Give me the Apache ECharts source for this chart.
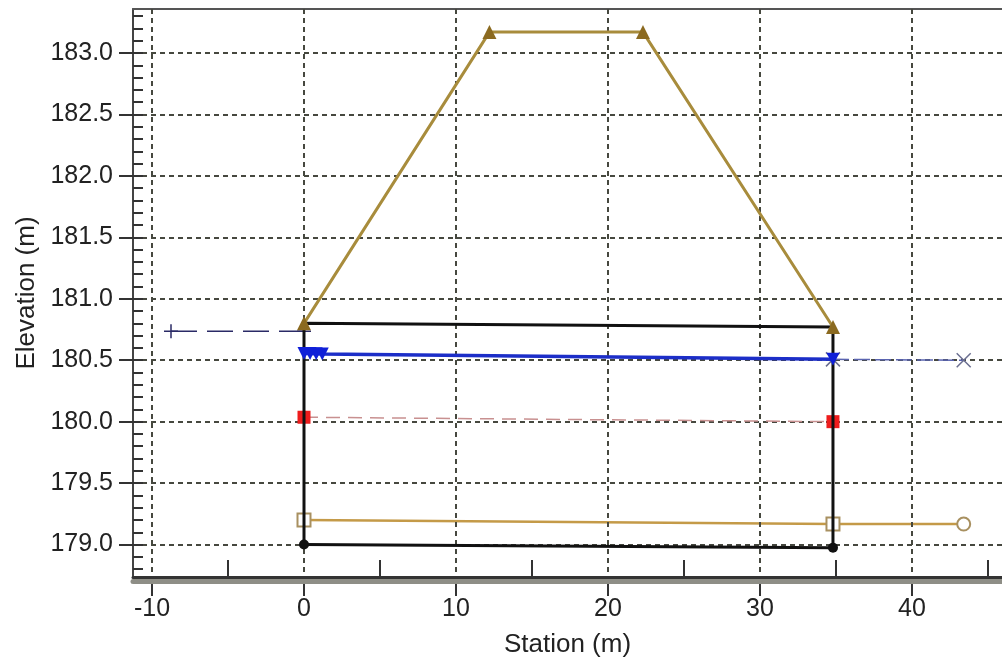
<!DOCTYPE html>
<html>
<head>
<meta charset="utf-8">
<script src="https://cdn.jsdelivr.net/npm/echarts@6/dist/echarts.min.js"></script>
<style>
  html, body { margin: 0; padding: 0; background: #ffffff; }
  #chart { width: 1002px; height: 663px; }
</style>
</head>
<body>
<div id="chart"></div>
<script>
// Culvert cross-section profile: station (m) vs elevation (m)

// Axis extents and tick positions
const xMin = -11.25;
const xMax = 45.92;
const yMin = 178.736;
const yMax = 183.358;
const xTicks = [-10, 0, 10, 20, 30, 40];
const xMinorTicks = [-5, 5, 15, 25, 35, 45];
const yTicks = [179.0, 179.5, 180.0, 180.5, 181.0, 181.5, 182.0, 182.5, 183.0];
const yMinorTicks = [178.8, 178.9, 179.0, 179.1, 179.2, 179.3, 179.4, 179.5, 179.6, 179.7,
  179.8, 179.9, 180.0, 180.1, 180.2, 180.3, 180.4, 180.5, 180.6, 180.7,
  180.8, 180.9, 181.0, 181.1, 181.2, 181.3, 181.4, 181.5, 181.6, 181.7,
  181.8, 181.9, 182.0, 182.1, 182.2, 182.3, 182.4, 182.5, 182.6, 182.7,
  182.8, 182.9, 183.0, 183.1, 183.2, 183.3];

// Embankment / roadway crest
const roadX = [0, 12.2, 22.3, 34.8];
const roadY = [180.80, 183.17, 183.17, 180.77];

// Culvert barrel outline (walls and soffit)
const barrelX = [0, 0, 34.8, 34.8];
const barrelY = [179.0, 180.80, 180.77, 178.975];

// Culvert invert
const invertX = [0, 34.8];
const invertY = [179.0, 178.975];

// Water surface through the barrel
const waterX = [0, 0.4, 0.8, 1.2, 34.8];
const waterY = [180.555, 180.555, 180.553, 180.55, 180.507];

// Tailwater
const tailX = [34.8, 43.4];
const tailY = [180.507, 180.50];

// Headwater
const headX = [-8.75, 0];
const headY = [180.735, 180.735];

// Critical depth
const critX = [0, 34.8];
const critY = [180.036, 180.0];

// Normal depth / channel bed
const normX = [0, 34.8, 43.4];
const normY = [179.2, 179.167, 179.167];

const pairs = (xs, ys) => xs.map((x, i) => [x, ys[i]]);

const FONT = '"Liberation Sans", Arial, sans-serif';
const gridDash = { color: '#46483f', width: 2, type: [5, 4] };
const tickStyle = { color: '#333', width: 2 };

const plusPath = 'path://M0,5 L10,5 M5,0 L5,10';
const crossPath = 'path://M0,0 L10,10 M10,0 L0,10';

// tick-only axes that share the main scale
const tickAxisX = (extra) => Object.assign({
  type: 'value', min: xMin, max: xMax, position: 'bottom',
  axisLine: { show: false, onZero: false },
  axisLabel: { show: false },
  splitLine: { show: false }
}, extra);
const tickAxisY = (extra) => Object.assign({
  type: 'value', min: yMin, max: yMax, position: 'left',
  axisLine: { show: false, onZero: false },
  axisLabel: { show: false },
  splitLine: { show: false }
}, extra);

const chart = echarts.init(document.getElementById('chart'), null, { renderer: 'canvas' });

chart.setOption({
  animation: false,
  backgroundColor: '#ffffff',
  grid: { left: 133, right: 0, top: 9, bottom: 85, containLabel: false },
  xAxis: [
    {
      type: 'value', min: xMin, max: xMax, position: 'bottom',
      name: 'Station (m)', nameLocation: 'middle', nameGap: 55,
      nameTextStyle: { fontFamily: FONT, fontSize: 26, color: '#222' },
      axisLine: { show: true, onZero: false, lineStyle: { color: '#333', width: 3 } },
      axisTick: { show: false, customValues: xTicks },
      axisLabel: { show: true, customValues: xTicks, margin: 20,
        fontFamily: FONT, fontSize: 25, color: '#222' },
      splitLine: { show: true, lineStyle: gridDash },
      z: 5
    },
    // major ticks hanging below the axis line
    tickAxisX({
      offset: 19,
      axisTick: { show: true, inside: true, length: 19, customValues: xTicks, lineStyle: tickStyle }
    }),
    // minor ticks rising into the plot
    tickAxisX({
      axisTick: { show: true, inside: true, length: 17, customValues: xMinorTicks, lineStyle: tickStyle }
    }),
    // shaded band under the axis line
    tickAxisX({
      offset: 4,
      axisLine: { show: true, onZero: false, lineStyle: { color: '#8e8e86', width: 5 } },
      axisTick: { show: false },
      z: 4
    }),
    {
      type: 'value', min: xMin, max: xMax, position: 'top',
      axisLine: { show: true, onZero: false, lineStyle: { color: '#555', width: 2 } },
      axisTick: { show: false }, axisLabel: { show: false }, splitLine: { show: false }
    }
  ],
  yAxis: [
    {
      type: 'value', min: yMin, max: yMax, position: 'left',
      name: 'Elevation (m)', nameLocation: 'middle', nameGap: 93, nameRotate: 90,
      nameTextStyle: { fontFamily: FONT, fontSize: 26, color: '#222' },
      axisLine: { show: true, onZero: false, lineStyle: { color: '#444', width: 2 } },
      axisTick: { show: false, customValues: yTicks },
      axisLabel: { show: true, customValues: yTicks, margin: 20,
        formatter: v => v.toFixed(1),
        fontFamily: FONT, fontSize: 25, color: '#222' },
      splitLine: { show: true, lineStyle: gridDash }
    },
    // major ticks reaching out toward the labels
    tickAxisY({
      offset: 14,
      axisTick: { show: true, inside: true, length: 14, customValues: yTicks, lineStyle: tickStyle }
    }),
    // minor ticks pointing into the plot
    tickAxisY({
      axisTick: { show: true, inside: true, length: 10, customValues: yMinorTicks, lineStyle: tickStyle }
    })
  ],
  series: [
    {
      name: 'Headwater', type: 'line', data: pairs(headX, headY),
      lineStyle: { color: '#2a2a66', width: 1.5, type: [26, 10] },
      symbol: plusPath, symbolSize: 14,
      itemStyle: { color: 'none', borderColor: '#2a2a66', borderWidth: 1.5 },
      z: 3
    },
    {
      name: 'Tailwater', type: 'line', data: pairs(tailX, tailY),
      lineStyle: { color: '#5a64b0', width: 1.5, type: [16, 5] },
      symbol: crossPath, symbolSize: 14,
      itemStyle: { color: 'none', borderColor: '#6a6e90', borderWidth: 1.5 },
      z: 3
    },
    {
      name: 'Critical Depth', type: 'line', data: pairs(critX, critY),
      lineStyle: { color: '#c89090', width: 1.5, type: [14, 8] },
      symbol: 'rect', symbolSize: 13,
      itemStyle: { color: '#ee1c1c' },
      z: 4
    },
    {
      name: 'Normal Depth', type: 'line', data: pairs(normX, normY).map((p, i) => ({
        value: p,
        symbol: i === normX.length - 1 ? 'emptyCircle' : 'emptyRect'
      })),
      lineStyle: { color: '#c49a48', width: 2.5 },
      symbolSize: 13,
      itemStyle: { color: '#a89060', borderWidth: 1.5 },
      z: 4
    },
    {
      name: 'Barrel', type: 'line', data: pairs(barrelX, barrelY),
      lineStyle: { color: '#111', width: 3 },
      symbol: 'none',
      z: 5
    },
    {
      name: 'Invert', type: 'line', data: pairs(invertX, invertY),
      lineStyle: { color: '#111', width: 3 },
      symbol: 'circle', symbolSize: 10,
      itemStyle: { color: '#111' },
      z: 5
    },
    {
      name: 'Water Surface', type: 'line', data: pairs(waterX, waterY),
      lineStyle: { color: '#1c2ec8', width: 3.5 },
      symbol: 'triangle', symbolRotate: 180, symbolSize: 13, showAllSymbol: true,
      itemStyle: { color: '#1020d8' },
      z: 6
    },
    {
      name: 'Roadway', type: 'line', data: pairs(roadX, roadY),
      lineStyle: { color: '#a88c3c', width: 3 },
      symbol: 'triangle', symbolSize: 14,
      itemStyle: { color: '#8b6a20' },
      z: 6
    }
  ]
});
</script>
</body>
</html>
